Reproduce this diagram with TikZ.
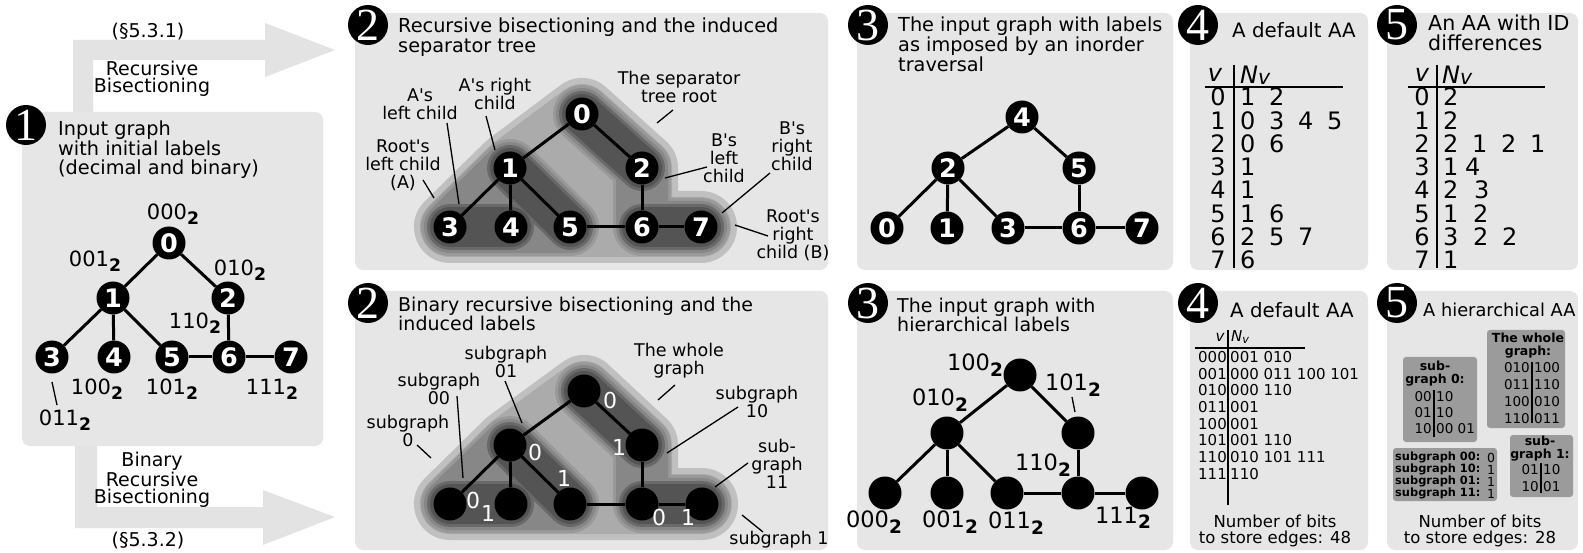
\documentclass[tikz,border=0pt]{standalone}
\usepackage{fontspec}
\usepackage{graphicx}
\setmainfont{DejaVu Sans}
\newfontfamily\circfont{Liberation Serif}
\definecolor{panelbg}{HTML}{E6E6E6}
\definecolor{arrowbg}{HTML}{E3E3E3}
\definecolor{rootout}{HTML}{C0C0C0}
\definecolor{rootin}{HTML}{ABABAB}
\definecolor{midout}{HTML}{999999}
\definecolor{midin}{HTML}{878787}
\definecolor{darkout}{HTML}{696969}
\definecolor{darkin}{HTML}{545454}
\definecolor{boxbg}{HTML}{9B9B9B}
% straight apostrophe
\newcommand\ap{\textquotesingle}
% bold subscript 2 for binary labels
\newcommand\subtwo{\raisebox{-0.45ex}{\scalebox{0.82}{\bfseries 2}}}
% fixed-width cell for adjacency lists
\newcommand\cellA[1]{\makebox[29pt][l]{#1}}
\newcommand\cellB[2]{\makebox[#1pt][l]{#2}}
% nested separator regions around coordinates #10..#17
\newcommand\sepregions[1]{%
  \draw[line width=72pt, line join=round, draw=rootout, fill=rootout]
    (#13) -- (#11) -- (#10) -- (#12) -- (#16) -- (#17) -- cycle;
  \draw[line width=60pt, line join=round, draw=rootin, fill=rootin]
    (#13) -- (#11) -- (#10) -- (#12) -- (#16) -- (#17) -- cycle;
  \draw[line width=58pt, line join=round, draw=midout, fill=midout]
    (#13) -- (#11) -- (#15) -- cycle;
  \draw[line width=58pt, line join=round, line cap=round, draw=midout]
    (#10) -- (#12) -- (#16) -- (#17);
  \draw[line width=52pt, line join=round, draw=midin, fill=midin]
    (#13) -- (#11) -- (#15) -- cycle;
  \draw[line width=52pt, line join=round, line cap=round, draw=midin]
    (#10) -- (#12) -- (#16) -- (#17);
  \foreach \u/\v in {0/2,1/5,3/4,6/7} {
    \draw[line width=46pt, line cap=round, draw=darkout] (#1\u) -- (#1\v);
  }
  \foreach \u/\v in {0/2,1/5,3/4,6/7} {
    \draw[line width=40pt, line cap=round, draw=darkin] (#1\u) -- (#1\v);
  }
}
\begin{document}
\begin{tikzpicture}[x=1pt, y=-1pt,
  panel/.style={fill=panelbg, rounded corners=8pt},
  gnode/.style={circle, fill=black, minimum size=33pt, inner sep=0pt, text=white,
    font=\fontsize{25.5}{25.5}\selectfont\bfseries},
  edge/.style={line width=3pt},
  lead/.style={line width=1.3pt},
  numc/.style={circle, fill=black, minimum size=40pt, inner sep=0pt, text=white,
    font=\circfont\fontsize{46}{46}\selectfont},
  ttl/.style={anchor=north west, align=left, inner sep=0pt,
    font=\fontsize{19.3}{19.5}\selectfont},
  lbl/.style={align=center, inner sep=0pt, font=\fontsize{17.5}{18}\selectfont},
  arr/.style={align=center, inner sep=0pt, font=\fontsize{19}{17.5}\selectfont},
  blab/.style={inner sep=0pt, font=\fontsize{21}{21}\selectfont},
  hlab/.style={inner sep=0pt, font=\fontsize{22.5}{22.5}\selectfont},
  wdig/.style={inner sep=0pt, text=white, font=\fontsize{22}{22}\selectfont},
  tbig/.style={inner sep=0pt, font=\fontsize{24}{24}\selectfont},
  tsml/.style={inner sep=0pt, font=\fontsize{15}{15}\selectfont},
  tbox/.style={inner sep=0pt, font=\fontsize{13.5}{13.5}\selectfont},
  tboxb/.style={inner sep=0pt, align=center, font=\fontsize{12.5}{13}\selectfont\bfseries},
  bits/.style={align=center, inner sep=0pt, font=\fontsize{16.5}{15.5}\selectfont},
  hbox/.style={fill=boxbg, rounded corners=3pt},
]
\useasboundingbox (0,0) rectangle (1583,553);

% ---------- flow arrows out of panel 1 ----------
\fill[arrowbg] (73,114) -- (73,40) -- (265,40) -- (265,23) -- (335,50) -- (265,77)
  -- (265,60) -- (93,60) -- (93,114) -- cycle;
\fill[arrowbg] (75,440) -- (75,528) -- (263,528) -- (263,545) -- (335,517) -- (263,490)
  -- (263,507) -- (97,507) -- (97,440) -- cycle;
\node[arr] (s531) at (148,32) {(§5.3.1)};
\node[arr] (rb1) at (152,79) {Recursive\\Bisectioning};
\node[arr] (rb2) at (152,480) {Binary\\Recursive\\Bisectioning};
\node[arr] (s532) at (148,541) {(§5.3.2)};

% ---------- panel backgrounds ----------
\fill[panel] (22,112) rectangle (323,446);
\fill[panel] (355,13) rectangle (828,270);
\fill[panel] (355,291) rectangle (828,550);
\fill[panel] (857,13) rectangle (1173,270);
\fill[panel] (857,291) rectangle (1173,550);
\fill[panel] (1190,13) rectangle (1368,270);
\fill[panel] (1190,291) rectangle (1368,550);
\fill[panel] (1387,13) rectangle (1578,270);
\fill[panel] (1387,291) rectangle (1578,550);

% ---------- numbered markers ----------
\node[numc] (m1) at (26,125) {1};
\node[numc] (m2a) at (368,25) {2};
\node[numc] (m2b) at (368,303) {2};
\node[numc] (m3a) at (868,25) {3};
\node[numc] (m3b) at (868,303) {3};
\node[numc] (m4a) at (1198,25) {4};
\node[numc] (m4b) at (1198,303) {4};
\node[numc] (m5a) at (1397,25) {5};
\node[numc] (m5b) at (1397,303) {5};

% ---------- titles ----------
\node[ttl] (h1) at (58,121) {Input graph\\with initial labels\\(decimal and binary)};
\node[ttl, font=\fontsize{19.3}{20}\selectfont] (h2a) at (398,18) {Recursive bisectioning and the induced\\separator tree};
\node[ttl, font=\fontsize{19}{18.5}\selectfont] (h2b) at (398,297) {Binary recursive bisectioning and the\\induced labels};
\node[ttl, font=\fontsize{19.3}{18}\selectfont] (h3a) at (898,17) {The input graph with labels\\as imposed by an inorder\\traversal};
\node[ttl, font=\fontsize{19}{19}\selectfont] (h3b) at (897,298) {The input graph with\\hierarchical labels};
\node[ttl, anchor=west, font=\fontsize{19.8}{19.8}\selectfont] (h4a) at (1232,30) {A default AA};
\node[ttl, font=\fontsize{20.6}{19.5}\selectfont] (h5a) at (1428,15) {An AA with ID\\differences};
\node[ttl, anchor=west, font=\fontsize{19.8}{19.8}\selectfont] (h4b) at (1230,310) {A default AA};
\node[ttl, anchor=west, font=\fontsize{17.8}{17.8}\selectfont] (h5b) at (1423,310) {A hierarchical AA};

% ---------- panel 1: input graph ----------
\node[gnode] (a0) at (169,243) {0};
\node[gnode] (a1) at (113,298) {1};
\node[gnode] (a2) at (228,298) {2};
\node[gnode] (a3) at (52,357) {3};
\node[gnode] (a4) at (114,357) {4};
\node[gnode] (a5) at (172,357) {5};
\node[gnode] (a6) at (229,357) {6};
\node[gnode] (a7) at (291,357) {7};
\foreach \u/\v in {0/1,0/2,1/3,1/4,1/5,2/6,5/6,6/7}
  \draw[edge] (a\u) -- (a\v);
\node[blab] (la0) at (173,214) {000\subtwo};
\node[blab] (la1) at (95,261) {001\subtwo};
\node[blab] (la2) at (240,270) {010\subtwo};
\node[blab] (la6) at (195,323) {110\subtwo};
\node[blab] (la4) at (97,389) {100\subtwo};
\node[blab] (la5) at (172,389) {101\subtwo};
\node[blab] (la7) at (272,389) {111\subtwo};
\node[blab] (la3) at (65,420) {011\subtwo};
\draw[lead] (52,382) coordinate (ka) -- (57,405) coordinate (kb);

% ---------- panel 2 (top): separator tree ----------
\coordinate (T0) at (582,114);
\coordinate (T1) at (510,168);
\coordinate (T2) at (642,168);
\coordinate (T3) at (450,227);
\coordinate (T4) at (511,227);
\coordinate (T5) at (570,227);
\coordinate (T6) at (642,227);
\coordinate (T7) at (701,227);
\sepregions{T}
\foreach \i in {0,...,7} \node[gnode] (t\i) at (T\i) {\i};
\foreach \u/\v in {0/1,0/2,1/3,1/4,1/5,2/6,5/6,6/7}
  \draw[edge] (t\u) -- (t\v);
\node[lbl] (q1) at (679,87) {The separator\\tree root};
\node[lbl] (q2) at (495,94) {A\ap s right\\child};
\node[lbl] (q3) at (420,104) {A\ap s\\left child};
\node[lbl] (q4) at (403,165) {Root\ap s\\left child\\(A)};
\node[lbl] (q5) at (724,158) {B\ap s\\left\\child};
\node[lbl] (q6) at (792,146) {B\ap s\\right\\child};
\node[lbl] (q7) at (793,235) {Root\ap s\\right\\child (B)};
\draw[lead] (673,110) coordinate (e1a) -- (657,123) coordinate (e1b);
\draw[lead] (486,116) coordinate (e2a) -- (495,150) coordinate (e2b);
\draw[lead] (447,123) coordinate (e3a) -- (459,204) coordinate (e3b);
\draw[lead] (423,180) coordinate (e4a) -- (434,198) coordinate (e4b);
\draw[lead] (707,167) coordinate (e5a) -- (665,178) coordinate (e5b);
\draw[lead] (770,173) coordinate (e6a) -- (722,213) coordinate (e6b);
\draw[lead] (768,236) coordinate (e7a) -- (735,225) coordinate (e7b);

% ---------- panel 2 (bottom): binary bisectioning ----------
\coordinate (B0) at (584,391);
\coordinate (B1) at (510,445);
\coordinate (B2) at (642,445);
\coordinate (B3) at (450,504);
\coordinate (B4) at (511,504);
\coordinate (B5) at (570,504);
\coordinate (B6) at (642,504);
\coordinate (B7) at (702,504);
\sepregions{B}
\foreach \i in {0,...,7} \node[gnode] (b\i) at (B\i) {};
\foreach \u/\v in {0/1,0/2,1/3,1/4,1/5,2/6,5/6,6/7}
  \draw[edge] (b\u) -- (b\v);
\node[wdig] (w1) at (610,400) {0};
\node[wdig] (w2) at (619,447) {1};
\node[wdig] (w3) at (535,452) {0};
\node[wdig] (w4) at (564,478) {1};
\node[wdig] (w5) at (473,500) {0};
\node[wdig] (w6) at (488,513) {1};
\node[wdig] (w7) at (659,517) {0};
\node[wdig] (w8) at (688,517) {1};
\node[lbl] (r1) at (506,362) {subgraph\\01};
\node[lbl] (r2) at (439,389) {subgraph\\00};
\node[lbl] (r3) at (408,431) {subgraph\\0};
\node[lbl] (r4) at (679,361) {The whole\\graph};
\node[lbl] (r5) at (757,402) {subgraph\\10};
\node[lbl] (r6) at (777,464) {sub-\\graph\\11};
\node[lbl] (r7) at (779,540) {subgraph 1};
\draw[lead] (505,381) coordinate (f1a) -- (522,423) coordinate (f1b);
\draw[lead] (457,396) coordinate (f2a) -- (463,478) coordinate (f2b);
\draw[lead] (417,445) coordinate (f3a) -- (431,458) coordinate (f3b);
\draw[lead] (675,385) coordinate (f4a) -- (658,400) coordinate (f4b);
\draw[lead] (738,407) coordinate (f5a) -- (667,453) coordinate (f5b);
\draw[lead] (748,463) coordinate (f6a) -- (715,487) coordinate (f6b);
\draw[lead] (763,532) coordinate (f7a) -- (742,515) coordinate (f7b);

% ---------- panel 3 (top): inorder labels ----------
\node[gnode] (c4) at (1022,117) {4};
\node[gnode] (c2) at (948,168) {2};
\node[gnode] (c5) at (1079,168) {5};
\node[gnode] (c0) at (887,228) {0};
\node[gnode] (c1) at (947,228) {1};
\node[gnode] (c3) at (1008,228) {3};
\node[gnode] (c6) at (1079,228) {6};
\node[gnode] (c7) at (1142,228) {7};
\foreach \u/\v in {4/2,4/5,2/0,2/1,2/3,5/6,3/6,6/7}
  \draw[edge] (c\u) -- (c\v);

% ---------- panel 3 (bottom): hierarchical labels ----------
\node[gnode] (d100) at (1020,375) {};
\node[gnode] (d010) at (947,433) {};
\node[gnode] (d101) at (1078,433) {};
\node[gnode] (d000) at (885,493) {};
\node[gnode] (d001) at (947,493) {};
\node[gnode] (d011) at (1007,493) {};
\node[gnode] (d110) at (1078,493) {};
\node[gnode] (d111) at (1142,493) {};
\foreach \u/\v in {100/010,100/101,010/000,010/001,010/011,101/110,011/110,110/111}
  \draw[edge] (d\u) -- (d\v);
\node[hlab] (ld100) at (975,365) {100\subtwo};
\node[hlab] (ld010) at (940,400) {010\subtwo};
\node[hlab] (ld101) at (1073,385) {101\subtwo};
\node[hlab] (ld110) at (1043,465) {110\subtwo};
\node[hlab] (ld000) at (874,522) {000\subtwo};
\node[hlab] (ld001) at (950,522) {001\subtwo};
\node[hlab] (ld011) at (1016,523) {011\subtwo};
\node[hlab] (ld111) at (1123,518) {111\subtwo};
\draw[lead] (1072,397) coordinate (g1a) -- (1075,412) coordinate (g1b);

% ---------- panel 4 (top): default adjacency array ----------
\node[tbig] (v4h) at (1215,75) {\itshape v};
\node[tbig, anchor=west] (n4h) at (1240,75) {\itshape N\raisebox{-0.1ex}{\scalebox{0.85}{v}}};
\draw[line width=1.5pt] (1234,65) coordinate (v4t) -- (1234,268) coordinate (v4b);
\draw[line width=2.5pt] (1205,87) coordinate (h4l) -- (1343,87) coordinate (h4r);
\foreach \i/\row in {0/{\cellA{1}\cellA{2}},1/{\cellA{0}\cellA{3}\cellA{4}5},
  2/{\cellA{0}\cellA{6}},3/{1},4/{1},5/{\cellA{1}\cellA{6}},
  6/{\cellA{2}\cellA{5}\cellA{7}},7/{6}} {
  \node[tbig] (p4v\i) at (1218,97+23.3*\i) {\i};
  \node[tbig, anchor=west] (p4n\i) at (1240,97+23.3*\i) {\row};
}

% ---------- panel 5 (top): ID differences ----------
\node[tbig] (v5h) at (1422,75) {\itshape v};
\node[tbig, anchor=west] (n5h) at (1442,75) {\itshape N\raisebox{-0.1ex}{\scalebox{0.85}{v}}};
\draw[line width=1.5pt] (1437,65) coordinate (v5t) -- (1437,268) coordinate (v5b);
\draw[line width=2.5pt] (1408,87) coordinate (h5l) -- (1545,87) coordinate (h5r);
\foreach \i/\row in {0/{2},1/{2},2/{\cellA{2}\cellA{1}\cellA{2}1},
  3/{\cellB{22}{1}4},4/{\cellB{31}{2}3},5/{\cellB{30}{1}2},
  6/{\cellB{30}{3}\cellA{2}2},7/{1}} {
  \node[tbig] (p5v\i) at (1422,97+23.3*\i) {\i};
  \node[tbig, anchor=west] (p5n\i) at (1443,97+23.3*\i) {\row};
}

% ---------- panel 4 (bottom): default AA with binary IDs ----------
\node[tsml] (v6h) at (1220,337) {\itshape v};
\node[tsml, anchor=west] (n6h) at (1231,337) {\itshape N\raisebox{-0.35ex}{\scalebox{0.75}{v}}};
\draw[line width=1.4pt] (1228,330) coordinate (v6t) -- (1228,505) coordinate (v6b);
\draw[line width=1.6pt] (1195,348) coordinate (h6l) -- (1305,348) coordinate (h6r);
\foreach \i/\a/\b in {0/000/{001 010},1/001/{000 011 100 101},2/010/{000 110},
  3/011/{001},4/100/{001},5/101/{001 110},6/110/{010 101 111},7/111/{110}} {
  \node[tsml, anchor=east] (p6v\i) at (1227,357+16.7*\i) {\a};
  \node[tsml, anchor=west] (p6n\i) at (1230,357+16.7*\i) {\b};
}
\node[bits] (nb48) at (1275,531) {Number of bits\\to store edges: 48};

% ---------- panel 5 (bottom): hierarchical AA ----------
\fill[hbox] (1403,357) rectangle (1477,442);
\fill[hbox] (1487,330) rectangle (1565,428);
\fill[hbox] (1393,448) rectangle (1497,501);
\fill[hbox] (1510,435) rectangle (1573,497);
% subgraph 0
\node[tboxb] (sg0) at (1435,374) {sub-\\graph 0:};
\draw[line width=1.2pt] (1434,390) coordinate (s0t) -- (1434,437) coordinate (s0b);
\foreach \i/\a/\b in {0/00/10,1/01/10,2/10/{00 01}} {
  \node[tbox, anchor=east] (s0l\i) at (1432,397+16*\i) {\a};
  \node[tbox, anchor=west] (s0r\i) at (1436,397+16*\i) {\b};
}
% whole graph
\node[tboxb] (sgw) at (1528,346) {The whole\\graph:};
\draw[line width=1.2pt] (1532,362) coordinate (swt) -- (1532,423) coordinate (swb);
\foreach \i/\a/\b in {0/010/100,1/011/110,2/100/010,3/110/011} {
  \node[tbox, anchor=east] (swl\i) at (1530,368+16.7*\i) {\a};
  \node[tbox, anchor=west] (swr\i) at (1534,368+16.7*\i) {\b};
}
% per-subgraph bits
\foreach \i/\a/\b in {0/00/0,1/10/1,2/01/1,3/11/1} {
  \node[tboxb, anchor=west, font=\fontsize{11.4}{11.4}\selectfont\bfseries] (sbl\i) at (1395,457+12*\i) {subgraph \a:};
  \node[tbox, font=\fontsize{12.5}{12.5}\selectfont] (sbr\i) at (1491,458+12*\i) {\b};
}
% subgraph 1
\node[tboxb] (sg1) at (1540,449) {sub-\\graph 1:};
\draw[line width=1.2pt] (1541,463) coordinate (s1t) -- (1541,493) coordinate (s1b);
\foreach \i/\a/\b in {0/01/10,1/10/01} {
  \node[tbox, anchor=east] (s1l\i) at (1539,470+17*\i) {\a};
  \node[tbox, anchor=west] (s1r\i) at (1543,470+17*\i) {\b};
}
\node[bits] (nb28) at (1480,531) {Number of bits\\to store edges: 28};
\end{tikzpicture}
\end{document}
